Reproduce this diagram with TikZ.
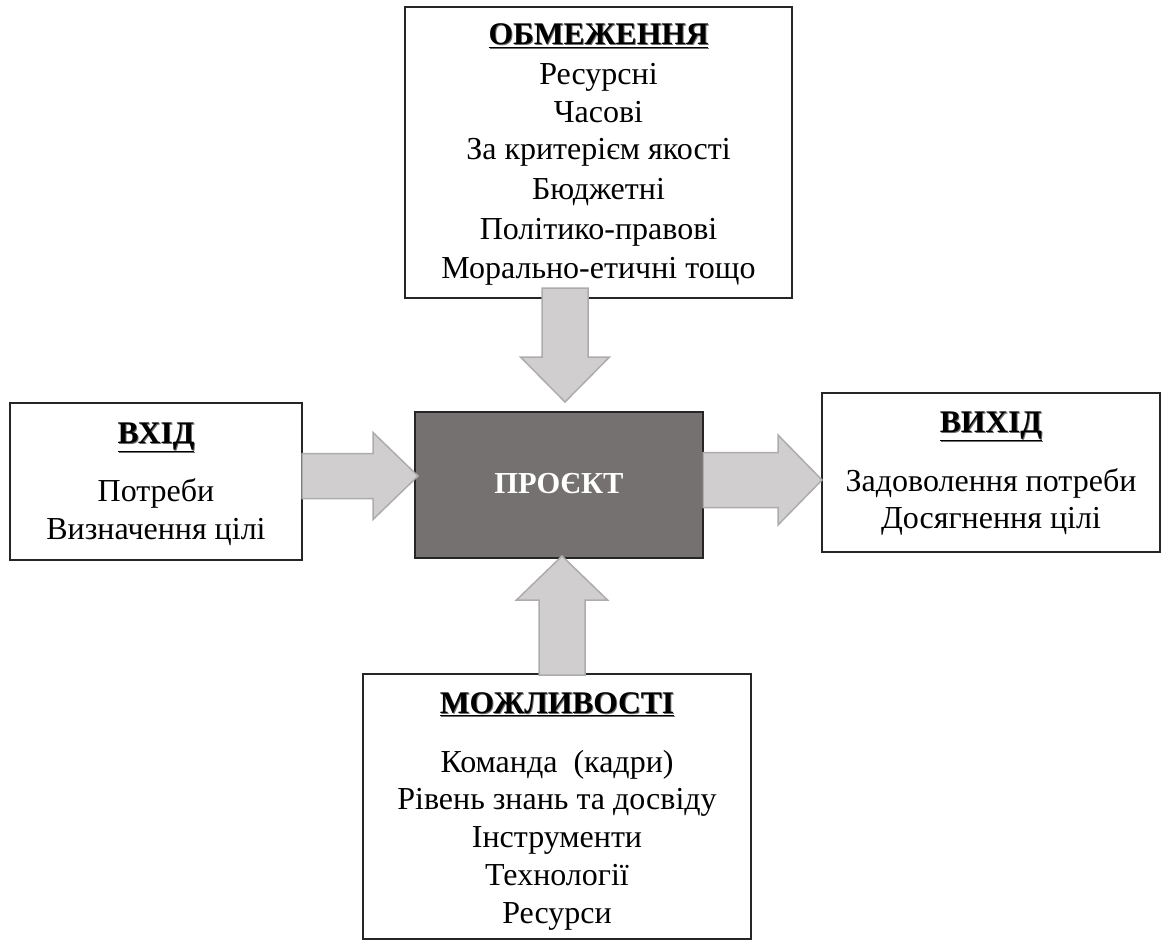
\documentclass[tikz,border=0pt]{standalone}
\usepackage{fontspec}
\setmainfont{Liberation Serif}
\usetikzlibrary{calc}
\definecolor{arrowfill}{HTML}{D0CECE}
\definecolor{arrowline}{HTML}{AEABAB}
\definecolor{projfill}{HTML}{767171}
\definecolor{boxline}{HTML}{262626}
\definecolor{shadowgray}{HTML}{6E6E6E}
\newcommand{\shtext}[1]{\makebox[0pt][l]{\hspace{1pt}\raisebox{-1pt}{\color{shadowgray}\underline{#1}}}\underline{#1}}
\begin{document}
\begin{tikzpicture}[x=1pt,y=-1pt,
  box/.style={draw=boxline, line width=1.2pt, fill=white, inner sep=0pt},
  txt/.style={anchor=base, inner sep=0pt, font=\fontsize{32}{38}\selectfont},
  headtxt/.style={anchor=base, inner sep=0pt, font=\fontsize{31.5}{38}\selectfont\bfseries},
  fat/.style={fill=arrowfill, draw=arrowline, line width=1.5pt, line join=miter}]
\useasboundingbox[fill=white] (0,0) rectangle (1167,944);

% boxes
\node[box, minimum width=387pt, minimum height=291pt] (lim) at (598.5,152.5) {};
\node[box, minimum width=292pt, minimum height=157pt] (inp) at (156,481.5) {};
\node[box, fill=projfill, minimum width=288pt, minimum height=146pt] (prj) at (559,485) {};
\node[box, minimum width=338pt, minimum height=159pt] (out) at (991,472.5) {};
\node[box, minimum width=388pt, minimum height=265pt] (cap) at (557,806.5) {};

% fat arrows
\coordinate (dtip) at (565,402);
\draw[fat] (dtip) -- ++(-44.5,-45) -- ++(21.5,0) -- ++(0,-69) -- ++(46,0) -- ++(0,69) -- ++(21.5,0) -- cycle;
\coordinate (rtipa) at (418,476);
\draw[fat] (rtipa) -- ++(-45,-43.5) -- ++(0,21) -- ++(-71,0) -- ++(0,45) -- ++(71,0) -- ++(0,21) -- cycle;
\coordinate (rtipb) at (822,480);
\draw[fat] (rtipb) -- ++(-44,-45) -- ++(0,17.5) -- ++(-75,0) -- ++(0,55) -- ++(75,0) -- ++(0,17.5) -- cycle;
\coordinate (utip) at (562,556);
\draw[fat] (utip) -- ++(-45.5,44) -- ++(22.5,0) -- ++(0,75) -- ++(46,0) -- ++(0,-75) -- ++(22.5,0) -- cycle;

% texts: constraints
\node[headtxt] (limh) at (598.5,45) {\shtext{ОБМЕЖЕННЯ}};
\node[txt] (lim1) at (598.5,85) {Ресурсні};
\node[txt] (lim2) at (598.5,123) {Часові};
\node[txt] (lim3) at (598.5,160) {За критерієм якості};
\node[txt] (lim4) at (598.5,200) {Бюджетні};
\node[txt] (lim5) at (598.5,240) {Політико-правові};
\node[txt] (lim6) at (598.5,278) {Морально-етичні тощо};

% input
\node[headtxt] (inph) at (156,443) {\shtext{ВХІД}};
\node[txt] (inp1) at (156,501) {Потреби};
\node[txt] (inp2) at (156,539) {Визначення цілі};

% project
\node[headtxt, text=white, font=\fontsize{30.5}{36}\selectfont\bfseries] (prjt) at (559,493) {ПРОЄКТ};

% output
\node[headtxt] (outh) at (991,432) {\shtext{ВИХІД}};
\node[txt] (out1) at (991,491) {Задоволення потреби};
\node[txt] (out2) at (991,528) {Досягнення цілі};

% capabilities
\node[headtxt] (caph) at (557,713) {\shtext{МОЖЛИВОСТІ}};
\node[txt] (cap1) at (557,772) {Команда\ \ (кадри)};
\node[txt] (cap2) at (557,809) {Рівень знань та досвіду};
\node[txt] (cap3) at (557,847) {Інструменти};
\node[txt] (cap4) at (557,885) {Технології};
\node[txt] (cap5) at (557,923) {Ресурси};
\end{tikzpicture}
\end{document}
